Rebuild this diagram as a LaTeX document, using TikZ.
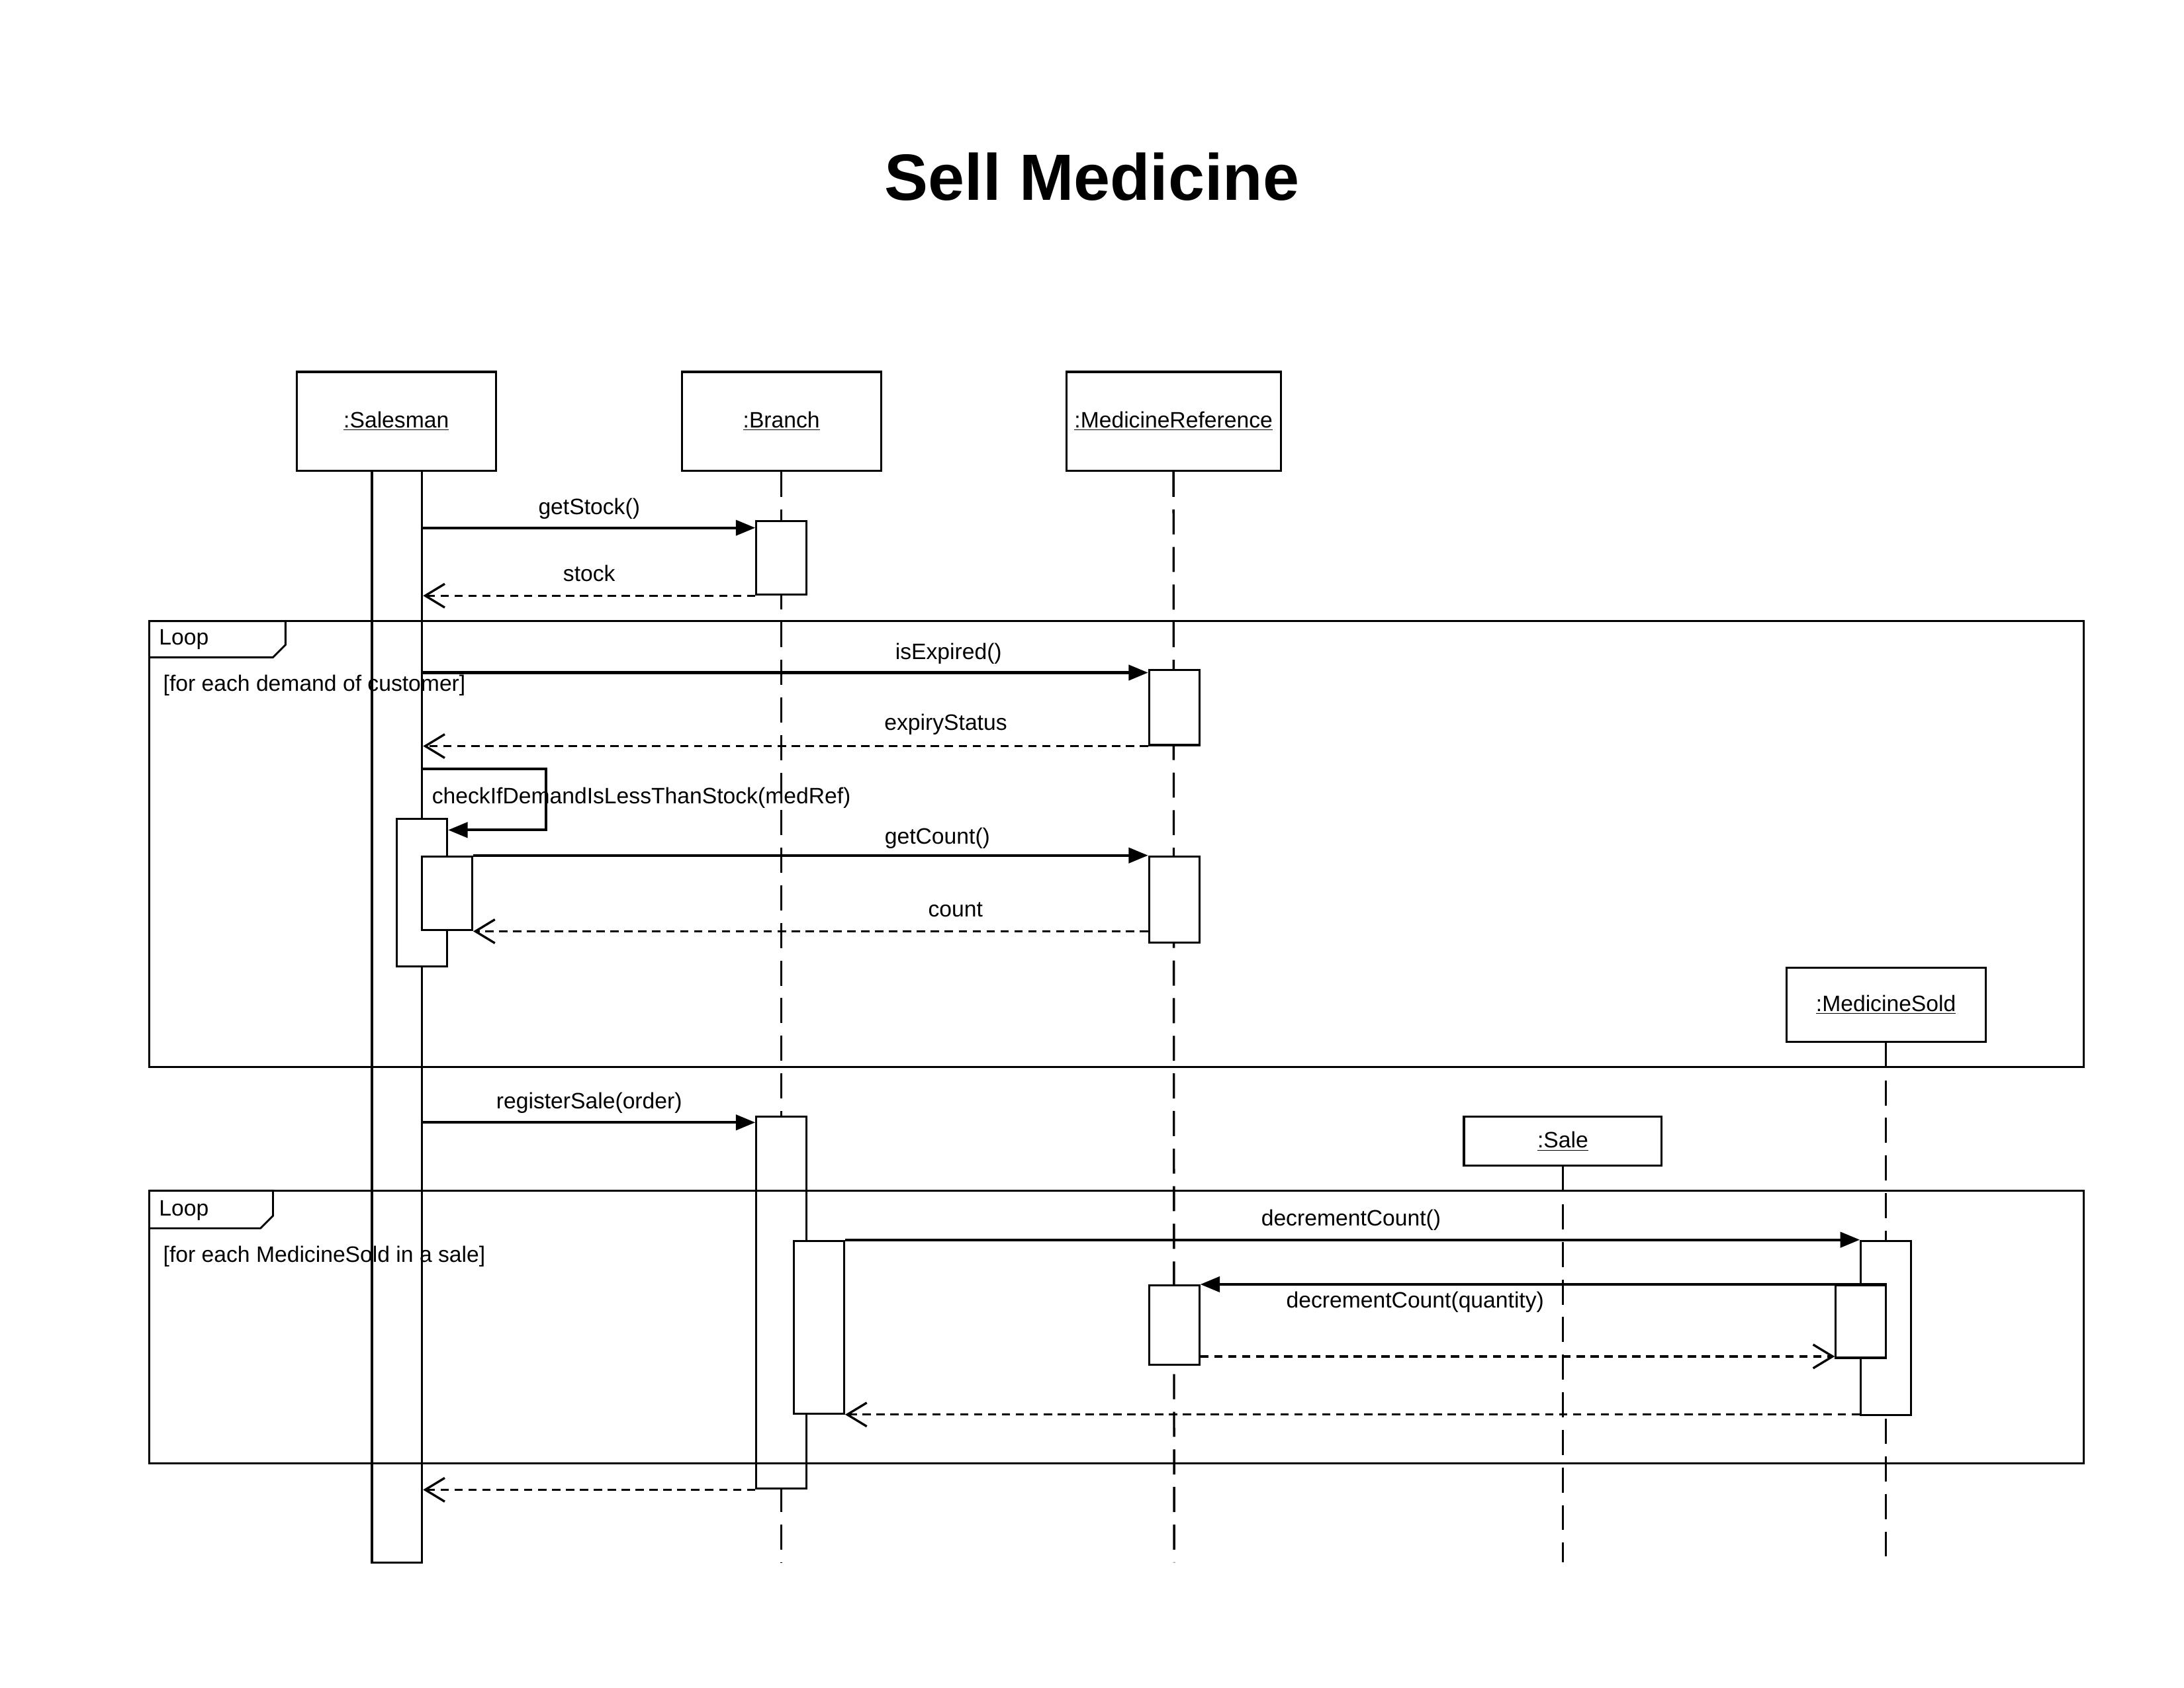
\documentclass[tikz,border=0pt]{standalone}
\usepackage{fontspec}
\setmainfont{Liberation Sans}
\usetikzlibrary{arrows.meta}
\begin{document}
\begin{tikzpicture}[x=1pt,y=-1pt,
  lbl/.style={font=\fontsize{16}{19}\selectfont, inner sep=0pt, text height=12pt, text depth=3.5pt, yshift=-2pt},
  head/.style={draw, line width=1.5pt, fill=white, inner sep=0pt, font=\fontsize{16}{19}\selectfont},
  actbox/.style={draw, line width=1.5pt, fill=white, inner sep=0pt, minimum width=36pt},
  lifeline/.style={line width=1.6pt, dash pattern=on 18pt off 9pt},
  sync/.style={line width=2pt, -{Triangle[length=14pt,width=11pt]}},
  reply/.style={line width=1.6pt, dash pattern=on 6pt off 4pt, -{Straight Barb[length=14pt,width=17pt]}},
  framebox/.style={line width=1.4pt}]
\useasboundingbox (0,0) rectangle (1568,1212);

% title
\node[font=\fontsize{47}{56}\selectfont\bfseries, inner sep=0pt] (title) at (784,127) {Sell Medicine};

% heads
\node[head, minimum width=143pt, minimum height=71pt] (hsales) at (284.5,302.5) {\underline{:Salesman}};
\node[head, minimum width=143pt, minimum height=71pt] (hbranch) at (561,302.5) {\underline{:Branch}};
\node[head, minimum width=154pt, minimum height=71pt] (hmedref) at (842.5,302.5) {\underline{:MedicineReference}};
\node[head, minimum width=143pt, minimum height=53pt] (hmsold) at (1354,721.5) {\underline{:MedicineSold}};
\node[head, minimum width=142pt, minimum height=35pt] (hsale) at (1122,819.5) {\underline{:Sale}};

% lifeline ends
\coordinate (ebranch) at (561,1122);
\coordinate (emedref) at (843,1122);
\coordinate (emsold) at (1354,1122);
\coordinate (esale) at (1122,1122);

\draw[lifeline] (hbranch.south) -- (ebranch);
\draw[lifeline] (hmedref.south) -- (emedref);
\draw[lifeline] (hmsold.south) -- (emsold);
\draw[lifeline] (hsale.south) -- (esale);

% activation boxes
\node[actbox, minimum height=784pt] (sbar) at (285,730) {};
\node[actbox, minimum height=106pt] (sact2) at (303,641) {};
\node[actbox, minimum height=53pt] (sact3) at (321,641.5) {};

\node[actbox, minimum height=53pt] (bact1) at (561,400.5) {};
\node[actbox, minimum height=267pt] (bact2) at (561,935.5) {};
\node[actbox, minimum height=124pt] (bact3) at (588,953) {};

\node[actbox, minimum height=54pt] (mract1) at (843,508) {};
\node[actbox, minimum height=62pt] (mract2) at (843,646) {};
\node[actbox, minimum height=57pt] (mract3) at (843,951.5) {};

\node[actbox, minimum height=125pt] (msact1) at (1354,953.5) {};
\node[actbox, minimum height=52pt] (msact2) at (1336,949) {};

% loop frames
\draw[framebox] (107,446) rectangle (1496,766);
\draw[framebox] (107,446) -- (205,446) -- (205,463) -- (196,472) -- (107,472);
\node[lbl, anchor=west] (loop1) at (114,457) {Loop};
\node[lbl, anchor=west] (guard1) at (117,490) {[for each demand of customer]};

\draw[framebox] (107,855) rectangle (1496,1051);
\draw[framebox] (107,855) -- (196,855) -- (196,873) -- (187,882) -- (107,882);
\node[lbl, anchor=west] (loop2) at (114,867) {Loop};
\node[lbl, anchor=west] (guard2) at (117,900) {[for each MedicineSold in a sale]};

% messages
\draw[sync] (sbar.east |- 0,379) -- (bact1.west |- 0,379);
\node[lbl] (m1) at (423,363) {getStock()};
\draw[reply] (bact1.south west) -- (sbar.east |- bact1.south);
\node[lbl] (m2) at (423,411) {stock};

\draw[sync] (sbar.east |- 0,483) -- (mract1.west |- 0,483);
\node[lbl] (m3) at (681,467) {isExpired()};
\draw[reply] (mract1.south west) -- (sbar.east |- mract1.south);
\node[lbl] (m4) at (679,518) {expiryStatus};

\draw[sync] (sbar.east |- 0,552) -- (392,552) -- (392,596) -- (sact2.east |- 0,596);
\node[lbl, anchor=west] (m5) at (310,571) {checkIfDemandIsLessThanStock(medRef)};

\draw[sync] (sact3.north east) -- (mract2.north west);
\node[lbl] (m6) at (673,600) {getCount()};
\draw[reply] (mract2.west |- sact3.south) -- (sact3.south east);
\node[lbl] (m7) at (686,652) {count};

\draw[sync] (sbar.east |- 0,806) -- (bact2.west |- 0,806);
\node[lbl] (m8) at (423,790) {registerSale(order)};

\draw[sync] (bact3.north east) -- (msact1.west |- bact3.north);
\node[lbl] (m9) at (970,874) {decrementCount()};

\draw[sync] (msact2.north east) -- (mract3.north east);
\node[lbl] (m10) at (1016,933) {decrementCount(quantity)};
\draw[reply] (mract3.east |- 0,974) -- (msact2.west |- 0,974);

\draw[reply] (msact1.west |- bact3.south) -- (bact3.south east);
\draw[reply] (bact2.south west) -- (sbar.east |- bact2.south);
\end{tikzpicture}
\end{document}
